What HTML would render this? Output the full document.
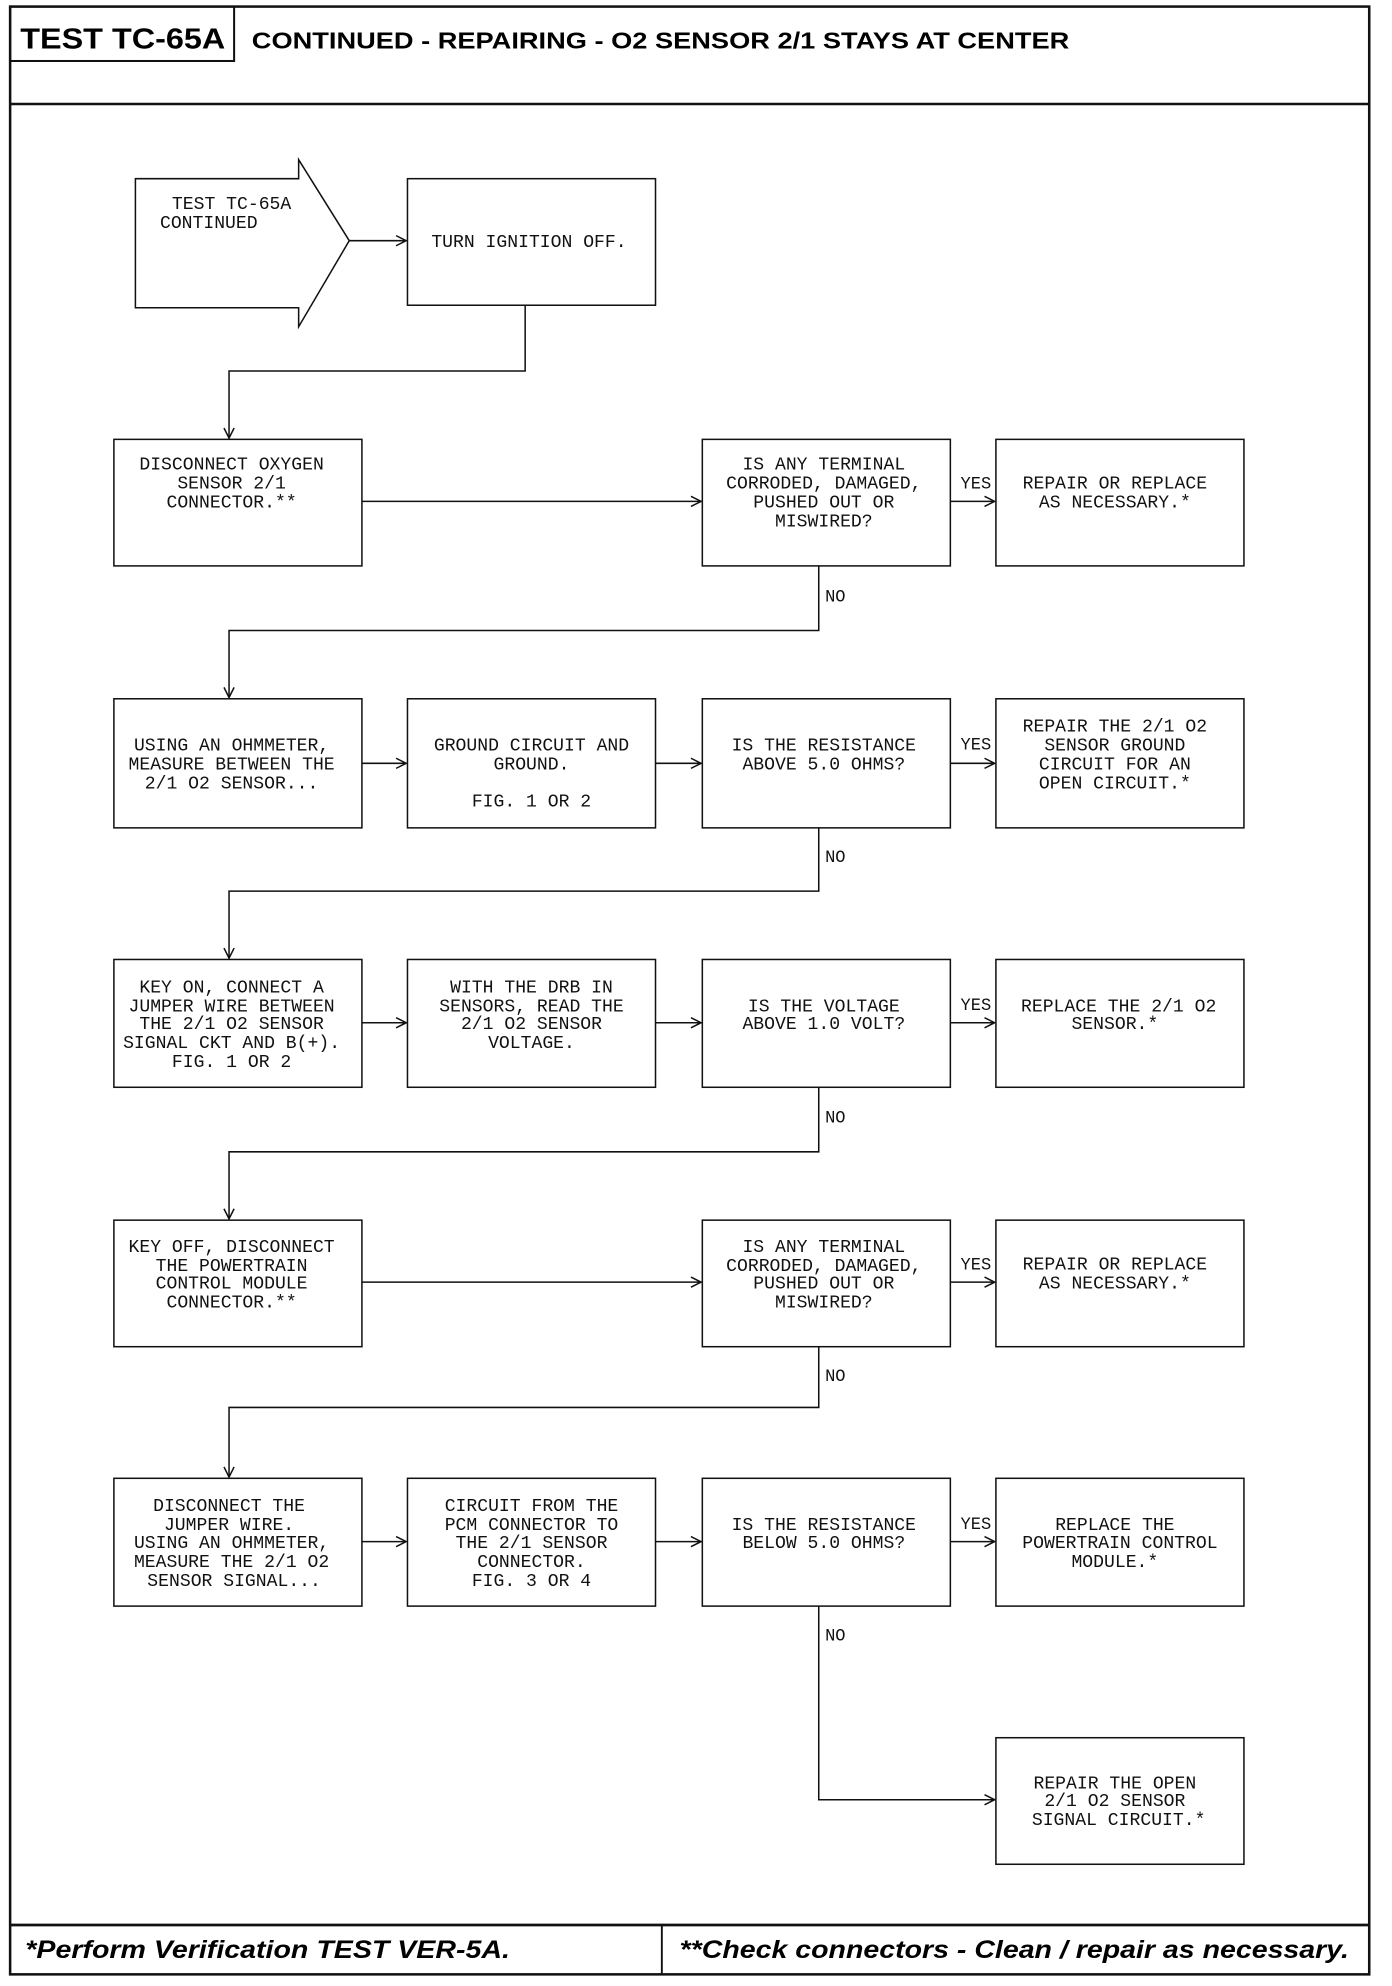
<!DOCTYPE html>
<html><head><meta charset="utf-8"><style>
html,body{margin:0;padding:0;background:#fff}
svg{display:block}
.m{font-family:"Liberation Mono",monospace;font-size:14.3px;fill:#111;text-anchor:middle}
.l{font-family:"Liberation Mono",monospace;font-size:13.5px;fill:#111}
</style></head><body>
<svg width="1392" height="1986" viewBox="0 0 1100 1569" xmlns="http://www.w3.org/2000/svg">
<defs><marker id="a" markerWidth="10" markerHeight="10" refX="9" refY="5" orient="auto" markerUnits="userSpaceOnUse"><path d="M1,1 L9,5 L1,9" fill="none" stroke="#111" stroke-width="1.2"/></marker></defs>
<g fill="none" stroke="#111">
<rect x="8" y="5" width="1074" height="1555" stroke-width="2"/>
<rect x="8" y="5" width="177" height="43" stroke-width="1.6"/>
<line x1="8" y1="82" x2="1082" y2="82" stroke-width="2"/>
<line x1="8" y1="1521" x2="1082" y2="1521" stroke-width="2.2"/>
<line x1="523" y1="1521" x2="523" y2="1560" stroke-width="1.5"/>
<g stroke-width="1.2">
<polygon points="107,141 236,141 236,126 276,190 236,258 236,243 107,243"/>
<rect x="322" y="141" width="196" height="100"/>
<rect x="90" y="347" width="196" height="100"/><rect x="555" y="347" width="196" height="100"/><rect x="787" y="347" width="196" height="100"/>
<rect x="90" y="552" width="196" height="102"/><rect x="322" y="552" width="196" height="102"/><rect x="555" y="552" width="196" height="102"/><rect x="787" y="552" width="196" height="102"/>
<rect x="90" y="758" width="196" height="101"/><rect x="322" y="758" width="196" height="101"/><rect x="555" y="758" width="196" height="101"/><rect x="787" y="758" width="196" height="101"/>
<rect x="90" y="964" width="196" height="100"/><rect x="555" y="964" width="196" height="100"/><rect x="787" y="964" width="196" height="100"/>
<rect x="90" y="1168" width="196" height="101"/><rect x="322" y="1168" width="196" height="101"/><rect x="555" y="1168" width="196" height="101"/><rect x="787" y="1168" width="196" height="101"/>
<rect x="787" y="1373" width="196" height="100"/>
</g>
<g stroke-width="1.2" marker-end="url(#a)">
<line x1="276" y1="190" x2="321" y2="190"/>
<polyline points="415,241 415,293 181,293 181,346"/>
<line x1="286" y1="396" x2="554" y2="396"/><line x1="751" y1="396" x2="786" y2="396"/>
<polyline points="647,447 647,498 181,498 181,551"/>
<line x1="286" y1="603" x2="321" y2="603"/><line x1="518" y1="603" x2="554" y2="603"/><line x1="751" y1="603" x2="786" y2="603"/>
<polyline points="647,654 647,704 181,704 181,757"/>
<line x1="286" y1="808" x2="321" y2="808"/><line x1="518" y1="808" x2="554" y2="808"/><line x1="751" y1="808" x2="786" y2="808"/>
<polyline points="647,859 647,910 181,910 181,963"/>
<line x1="286" y1="1013" x2="554" y2="1013"/><line x1="751" y1="1013" x2="786" y2="1013"/>
<polyline points="647,1064 647,1112 181,1112 181,1167"/>
<line x1="286" y1="1218" x2="321" y2="1218"/><line x1="518" y1="1218" x2="554" y2="1218"/><line x1="751" y1="1218" x2="786" y2="1218"/>
<polyline points="647,1269 647,1422 786,1422"/>
</g></g>
<text x="16" y="38" font-family="Liberation Sans,sans-serif" font-weight="bold" font-size="23" textLength="162" lengthAdjust="spacingAndGlyphs">TEST TC-65A</text>
<text x="199" y="38" font-family="Liberation Sans,sans-serif" font-weight="bold" font-size="18" textLength="646" lengthAdjust="spacingAndGlyphs">CONTINUED - REPAIRING - O2 SENSOR 2/1 STAYS AT CENTER</text>
<text x="20" y="1547" font-family="Liberation Sans,sans-serif" font-weight="bold" font-style="italic" font-size="20" textLength="383" lengthAdjust="spacingAndGlyphs">*Perform Verification TEST VER-5A.</text>
<text x="537" y="1547" font-family="Liberation Sans,sans-serif" font-weight="bold" font-style="italic" font-size="20" textLength="529" lengthAdjust="spacingAndGlyphs">**Check connectors - Clean / repair as necessary.</text>
<g class="m">
<text x="183" y="165">TEST TC-65A</text><text x="165" y="180">CONTINUED</text>
<text x="418" y="195">TURN IGNITION OFF.</text>
<text x="183" y="371">DISCONNECT OXYGEN</text><text x="183" y="386">SENSOR 2/1</text><text x="183" y="401">CONNECTOR.**</text>
<text x="651" y="371">IS ANY TERMINAL</text><text x="651" y="386">CORRODED, DAMAGED,</text><text x="651" y="401">PUSHED OUT OR</text><text x="651" y="416">MISWIRED?</text>
<text x="881" y="386">REPAIR OR REPLACE</text><text x="881" y="401">AS NECESSARY.*</text>
<text x="183" y="593">USING AN OHMMETER,</text><text x="183" y="608">MEASURE BETWEEN THE</text><text x="183" y="623">2/1 O2 SENSOR...</text>
<text x="420" y="593">GROUND CIRCUIT AND</text><text x="420" y="608">GROUND.</text><text x="420" y="637">FIG. 1 OR 2</text>
<text x="651" y="593">IS THE RESISTANCE</text><text x="651" y="608">ABOVE 5.0 OHMS?</text>
<text x="881" y="578">REPAIR THE 2/1 O2</text><text x="881" y="593">SENSOR GROUND</text><text x="881" y="608">CIRCUIT FOR AN</text><text x="881" y="623">OPEN CIRCUIT.*</text>
<text x="183" y="784">KEY ON, CONNECT A</text><text x="183" y="799">JUMPER WIRE BETWEEN</text><text x="183" y="813">THE 2/1 O2 SENSOR</text><text x="183" y="828">SIGNAL CKT AND B(+).</text><text x="183" y="843">FIG. 1 OR 2</text>
<text x="420" y="784">WITH THE DRB IN</text><text x="420" y="799">SENSORS, READ THE</text><text x="420" y="813">2/1 O2 SENSOR</text><text x="420" y="828">VOLTAGE.</text>
<text x="651" y="799">IS THE VOLTAGE</text><text x="651" y="813">ABOVE 1.0 VOLT?</text>
<text x="884" y="799">REPLACE THE 2/1 O2</text><text x="881" y="813">SENSOR.*</text>
<text x="183" y="989">KEY OFF, DISCONNECT</text><text x="183" y="1004">THE POWERTRAIN</text><text x="183" y="1018">CONTROL MODULE</text><text x="183" y="1033">CONNECTOR.**</text>
<text x="651" y="989">IS ANY TERMINAL</text><text x="651" y="1004">CORRODED, DAMAGED,</text><text x="651" y="1018">PUSHED OUT OR</text><text x="651" y="1033">MISWIRED?</text>
<text x="881" y="1003">REPAIR OR REPLACE</text><text x="881" y="1018">AS NECESSARY.*</text>
<text x="181" y="1194">DISCONNECT THE</text><text x="181" y="1209">JUMPER WIRE.</text><text x="183" y="1223">USING AN OHMMETER,</text><text x="183" y="1238">MEASURE THE 2/1 O2</text><text x="185" y="1253">SENSOR SIGNAL...</text>
<text x="420" y="1194">CIRCUIT FROM THE</text><text x="420" y="1209">PCM CONNECTOR TO</text><text x="420" y="1223">THE 2/1 SENSOR</text><text x="420" y="1238">CONNECTOR.</text><text x="420" y="1253">FIG. 3 OR 4</text>
<text x="651" y="1209">IS THE RESISTANCE</text><text x="651" y="1223">BELOW 5.0 OHMS?</text>
<text x="881" y="1209">REPLACE THE</text><text x="885" y="1223">POWERTRAIN CONTROL</text><text x="881" y="1238">MODULE.*</text>
<text x="881" y="1413">REPAIR THE OPEN</text><text x="881" y="1427">2/1 O2 SENSOR</text><text x="884" y="1442">SIGNAL CIRCUIT.*</text>
</g>
<g class="l">
<text x="759" y="386">YES</text><text x="759" y="592">YES</text><text x="759" y="798">YES</text><text x="759" y="1003">YES</text><text x="759" y="1208">YES</text>
<text x="652" y="475">NO</text><text x="652" y="681">NO</text><text x="652" y="887">NO</text><text x="652" y="1091">NO</text><text x="652" y="1296">NO</text>
</g>
</svg>
</body></html>
